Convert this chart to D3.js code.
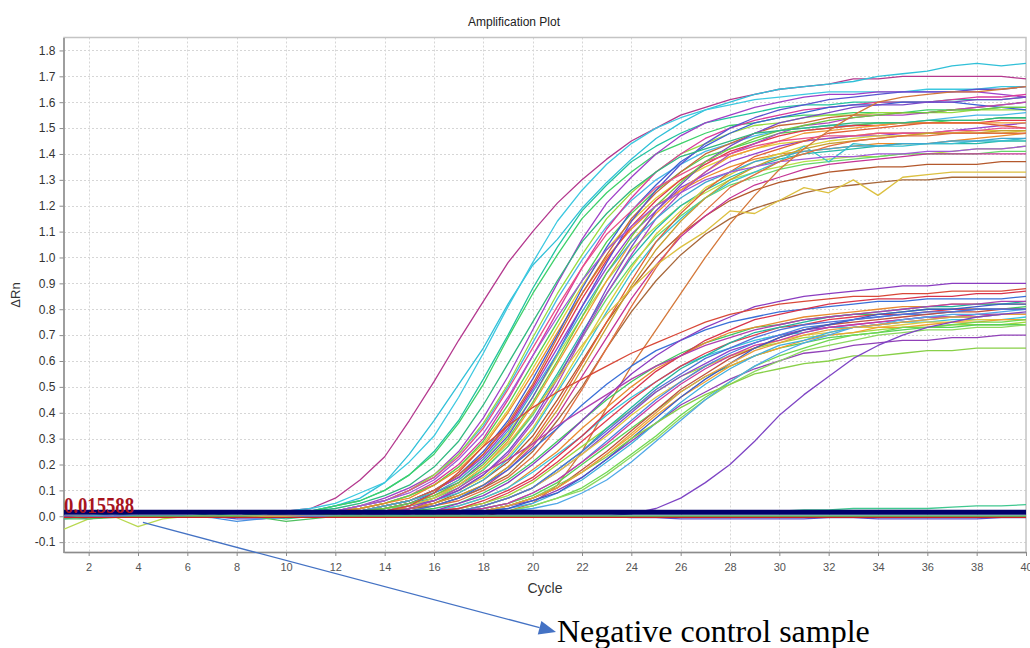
<!DOCTYPE html>
<html>
<head>
<meta charset="utf-8">
<script src="https://cdn.jsdelivr.net/npm/d3@7"></script>
<style>
  body { margin: 0; background: #fff; }
  svg { display: block; }
  .axis text { font-family: "Liberation Sans", Arial, sans-serif; }
</style>
</head>
<body>
<svg id="chart" width="1030" height="648"></svg>
<script>
// cycle numbers and tick labels
const cycles = [1,2,3,4,5,6,7,8,9,10,11,12,13,14,15,16,17,18,19,20,21,22,23,24,25,26,27,28,29,30,31,32,33,34,35,36,37,38,39,40];
const xTicks = [2,4,6,8,10,12,14,16,18,20,22,24,26,28,30,32,34,36,38,40];
const yTicks = [-0.1,0.0,0.1,0.2,0.3,0.4,0.5,0.6,0.7,0.8,0.9,1.0,1.1,1.2,1.3,1.4,1.5,1.6,1.7,1.8];
const threshold = 0.015588;

// delta Rn per cycle (1..40)
const earlyMagenta = [0,0,0,0,0,0,0,0,.01,.02, .03,.07,.14,.23,.37,.52,.68,.83,.98,1.10, 1.21,1.30,1.38,1.45,1.50,1.55,1.58,1.61,1.63,1.65, 1.66,1.67,1.69,1.69,1.70,1.70,1.70,1.70,1.70,1.69];
const earlyCyan = [0,0,0,0,0,0,0,0,0,.01, .02,.04,.07,.13,.24,.37,.51,.65,.82,.97, 1.07,1.19,1.29,1.38,1.46,1.52,1.57,1.60,1.63,1.65, 1.66,1.67,1.68,1.70,1.71,1.72,1.74,1.75,1.74,1.75];

const upper01 = [0,0,0,0,0,0,0,0,.01,.02, .03,.05,.09,.13,.21,.31,.46,.63,.81,.98, 1.14,1.26,1.36,1.44,1.50,1.54,1.57,1.59,1.61,1.62, 1.63,1.64,1.64,1.64,1.64,1.65,1.65,1.65,1.66,1.66];
const upper02 = [0,0,0,0,0,0,0,0,.01,.01, .02,.04,.06,.10,.16,.25,.37,.53,.70,.88, 1.04,1.18,1.28,1.37,1.43,1.48,1.52,1.54,1.56,1.58, 1.59,1.59,1.60,1.60,1.60,1.60,1.61,1.61,1.61,1.62];
const upper03 = [0,0,0,0,0,0,0,0,.01,.01, .02,.04,.06,.10,.16,.24,.36,.51,.69,.86, 1.01,1.15,1.25,1.33,1.40,1.44,1.48,1.51,1.52,1.54, 1.55,1.55,1.56,1.56,1.56,1.57,1.57,1.57,1.58,1.58];
const upper04 = [0,0,0,0,0,0,0,0,0,.01, .01,.02,.04,.07,.11,.16,.25,.38,.54,.72, .90,1.07,1.21,1.31,1.40,1.47,1.52,1.55,1.58,1.60, 1.62,1.63,1.63,1.64,1.64,1.64,1.64,1.64,1.63,1.62];
const upper05 = [0,0,0,0,0,0,0,0,0,.01, .01,.02,.04,.06,.10,.15,.24,.35,.50,.67, .84,.99,1.12,1.22,1.30,1.36,1.41,1.44,1.47,1.49, 1.50,1.51,1.51,1.52,1.52,1.53,1.54,1.55,1.55,1.56];
const upper06 = [0,0,0,0,0,0,0,0,0,.01, .01,.02,.04,.06,.10,.16,.24,.36,.51,.69, .86,1.01,1.15,1.25,1.33,1.40,1.44,1.48,1.51,1.52, 1.54,1.55,1.55,1.56,1.56,1.56,1.56,1.57,1.57,1.57];
const upper07 = [0,0,0,0,0,0,0,0,0,0, .01,.02,.03,.05,.08,.13,.20,.30,.45,.62, .79,.96,1.11,1.23,1.33,1.40,1.46,1.50,1.53,1.55, 1.57,1.58,1.59,1.60,1.60,1.60,1.61,1.62,1.62,1.63];
const upper08 = [0,0,0,0,0,0,0,0,0,0, .01,.02,.03,.05,.08,.12,.19,.28,.41,.57, .73,.89,1.03,1.14,1.23,1.30,1.35,1.39,1.42,1.44, 1.45,1.46,1.47,1.48,1.48,1.48,1.48,1.49,1.49,1.49];
const upper09 = [0,0,0,0,0,0,0,0,0,0, .01,.02,.03,.05,.08,.12,.19,.29,.43,.59, .75,.91,1.06,1.17,1.26,1.33,1.39,1.42,1.45,1.48, 1.49,1.50,1.51,1.52,1.52,1.52,1.53,1.53,1.54,1.54];
const upper10 = [0,0,0,0,0,0,0,0,0,0, .01,.02,.03,.05,.07,.12,.18,.27,.40,.55, .71,.86,1.00,1.11,1.20,1.26,1.31,1.35,1.38,1.40, 1.41,1.42,1.43,1.44,1.44,1.44,1.45,1.46,1.47,1.48];
const upper11 = [0,0,0,0,0,0,0,0,0,0, .01,.01,.02,.04,.06,.10,.16,.25,.37,.53, .70,.88,1.04,1.18,1.28,1.37,1.43,1.48,1.52,1.54, 1.56,1.58,1.59,1.59,1.60,1.60,1.60,1.59,1.58,1.57];
const upper12 = [0,0,0,0,0,0,0,0,0,0, .01,.01,.02,.04,.06,.10,.15,.24,.35,.50, .67,.84,.99,1.12,1.22,1.30,1.36,1.41,1.44,1.47, 1.49,1.50,1.51,1.51,1.52,1.52,1.52,1.52,1.53,1.53];
const upper13 = [0,0,0,0,0,0,0,0,0,0, .01,.01,.02,.04,.06,.10,.15,.23,.34,.49, .65,.81,.96,1.09,1.18,1.27,1.32,1.37,1.40,1.43, 1.45,1.46,1.47,1.47,1.48,1.48,1.49,1.50,1.51,1.52];
const upper14 = [0,0,0,0,0,0,0,0,0,0, .01,.01,.02,.04,.06,.09,.14,.22,.32,.46, .62,.77,.91,1.03,1.12,1.20,1.25,1.30,1.33,1.35, 1.37,1.38,1.39,1.39,1.40,1.40,1.41,1.42,1.42,1.43];
const upper15 = [0,0,0,0,0,0,0,0,0,0, .01,.01,.02,.04,.06,.10,.16,.24,.36,.51, .69,.86,1.01,1.15,1.25,1.33,1.40,1.44,1.48,1.51, 1.52,1.54,1.55,1.55,1.56,1.56,1.57,1.58,1.59,1.60];
const upper16 = [0,0,0,0,0,0,0,0,0,0, 0,.01,.02,.03,.05,.07,.12,.18,.27,.40, .55,.71,.86,1.00,1.11,1.20,1.26,1.31,1.35,1.38, 1.40,1.41,1.42,1.43,1.44,1.44,1.44,1.44,1.45,1.45];
const upper17 = [0,0,0,0,0,0,0,0,0,0, 0,.01,.02,.03,.05,.08,.12,.19,.29,.43, .59,.75,.91,1.06,1.17,1.26,1.33,1.39,1.42,1.45, 1.48,1.49,1.50,1.51,1.52,1.52,1.52,1.52,1.52,1.52];
const upper18 = [0,0,0,0,0,0,0,0,0,0, 0,.01,.02,.03,.05,.09,.13,.21,.31,.46, .63,.81,.98,1.14,1.26,1.36,1.44,1.50,1.54,1.57, 1.59,1.61,1.62,1.63,1.64,1.64,1.64,1.65,1.65,1.66];
const upper19 = [0,0,0,0,0,0,0,0,0,0, 0,.01,.02,.03,.04,.07,.11,.18,.27,.39, .54,.69,.84,.97,1.08,1.16,1.23,1.28,1.31,1.34, 1.36,1.37,1.38,1.39,1.40,1.40,1.40,1.40,1.41,1.41];
const upper20 = [0,0,0,0,0,0,0,0,0,0, 0,.01,.01,.02,.04,.06,.10,.15,.23,.34, .49,.65,.81,.96,1.09,1.18,1.27,1.32,1.37,1.40, 1.43,1.45,1.46,1.47,1.47,1.48,1.48,1.48,1.48,1.49];
const upper21 = [0,0,0,0,0,0,0,0,0,0, 0,.01,.01,.02,.04,.06,.10,.16,.24,.36, .51,.69,.86,1.01,1.15,1.25,1.33,1.40,1.44,1.48, 1.51,1.52,1.54,1.55,1.55,1.56,1.57,1.58,1.59,1.60];
const upper22 = [0,0,0,0,0,0,0,0,0,0, 0,.01,.01,.02,.03,.05,.09,.14,.21,.31, .45,.60,.75,.88,1.00,1.09,1.16,1.22,1.26,1.29, 1.31,1.33,1.34,1.35,1.35,1.36,1.36,1.36,1.37,1.37];
const upper23 = [0,0,0,0,0,0,0,0,0,0, 0,.01,.01,.02,.04,.06,.09,.14,.22,.33, .48,.63,.79,.94,1.06,1.15,1.23,1.29,1.33,1.37, 1.43,1.37,1.44,1.43,1.43,1.44,1.44,1.45,1.45,1.46];
const upper24 = [0,0,0,0,0,0,0,0,0,0, 0,0,.01,.02,.03,.04,.07,.11,.18,.27, .39,.54,.69,.84,.97,1.08,1.16,1.23,1.28,1.31, 1.34,1.36,1.37,1.38,1.39,1.40,1.40,1.40,1.40,1.40];
const upper25 = [0,0,0,0,0,0,0,0,0,0, 0,0,.01,.02,.03,.05,.08,.12,.19,.29, .43,.59,.75,.91,1.06,1.17,1.26,1.33,1.39,1.42, 1.45,1.48,1.49,1.50,1.51,1.52,1.52,1.52,1.51,1.50];
const upper26 = [0,0,0,0,0,0,0,0,0,0, 0,0,.01,.01,.03,.04,.07,.11,.16,.25, .37,.50,.65,.79,.91,1.01,1.09,1.15,1.19,1.22, 1.25,1.27,1.28,1.29,1.30,1.30,1.31,1.31,1.31,1.31];
const upper27 = [0,0,0,0,0,0,0,0,0,0, 0,.01,.01,.02,.04,.06,.10,.16,.25,.37, .53,.70,.88,1.04,1.18,1.28,1.37,1.43,1.48,1.52, 1.54,1.56,1.58,1.59,1.59,1.60,1.60,1.61,1.61,1.62];
const upper28 = [0,0,0,0,0,0,0,0,0,.01, .01,.02,.04,.06,.10,.15,.23,.34,.49,.65, .81,.96,1.09,1.18,1.27,1.32,1.37,1.40,1.43,1.45, 1.46,1.47,1.47,1.48,1.48,1.48,1.49,1.49,1.50,1.50];
const upper29 = [0,0,0,0,0,0,0,0,0,0, .01,.01,.02,.04,.06,.09,.14,.22,.33,.48, .63,.79,.94,1.06,1.15,1.23,1.29,1.33,1.37,1.39, 1.41,1.42,1.43,1.43,1.44,1.44,1.45,1.45,1.46,1.46];
const upper30 = [0,0,0,0,0,0,0,0,0,0, 0,.01,.02,.03,.05,.08,.13,.20,.30,.44, .60,.77,.94,1.08,1.20,1.29,1.37,1.42,1.46,1.49, 1.51,1.53,1.54,1.55,1.56,1.56,1.57,1.57,1.58,1.58];
const upper31 = [0,0,0,0,0,0,0,0,0,0, 0,0,.01,.02,.03,.05,.08,.12,.19,.28, .41,.57,.73,.89,1.03,1.14,1.23,1.30,1.35,1.39, 1.42,1.44,1.45,1.46,1.47,1.48,1.48,1.48,1.49,1.49];
const upper32 = [0,0,0,0,0,0,0,0,0,.01, .01,.02,.04,.06,.09,.14,.22,.32,.46,.62, .77,.91,1.03,1.12,1.20,1.25,1.30,1.33,1.35,1.37, 1.38,1.39,1.39,1.40,1.40,1.41,1.41,1.42,1.42,1.43];
const upper33 = [0,0,0,0,0,0,0,0,0,0, 0,0,.01,.01,.02,.04,.06,.10,.15,.23, .34,.49,.65,.81,.96,1.09,1.18,1.27,1.32,1.37, 1.40,1.43,1.45,1.46,1.47,1.47,1.48,1.48,1.48,1.48];
const upper34 = [0,0,0,0,0,0,0,0,0,.01, .02,.03,.05,.08,.12,.19,.29,.43,.59,.75, .91,1.06,1.17,1.26,1.33,1.39,1.42,1.45,1.48,1.49, 1.50,1.51,1.52,1.52,1.52,1.53,1.53,1.53,1.54,1.54];
const lateOrange = [0,0,0,0,0,0,0,0,0,0, 0,0,0,0,0,0,0,0,.02,.05, .12,.25,.42,.58,.72,.86,1.00,1.13,1.24,1.34, 1.42,1.49,1.55,1.60,1.62,1.63,1.64,1.64,1.65,1.66];
const zigzagYellow = [0,0,0,0,0,0,0,0,0,0, 0,0,.01,.02,.04,.07,.12,.19,.28,.40, .53,.66,.78,.88,.97,1.04,1.10,1.18,1.17,1.22, 1.27,1.25,1.30,1.24,1.31,1.32,1.33,1.33,1.33,1.33];

const lower01 = [0,0,0,0,0,0,0,0,0,0, 0,0,.01,.01,.02,.04,.07,.12,.18,.26, .34,.43,.51,.58,.64,.68,.72,.75,.77,.79, .80,.81,.82,.83,.83,.84,.84,.84,.84,.85];
const lower02 = [0,0,0,0,0,0,0,0,0,0, 0,0,0,.01,.02,.03,.05,.09,.14,.21, .29,.37,.45,.52,.58,.63,.67,.70,.73,.74, .76,.77,.78,.78,.79,.80,.80,.80,.80,.81];
const lower03 = [0,0,0,0,0,0,0,0,0,0, 0,0,0,.01,.01,.02,.04,.07,.11,.18, .25,.34,.42,.50,.57,.62,.67,.71,.73,.75, .77,.78,.79,.80,.81,.81,.82,.82,.82,.82];
const lower04 = [0,0,0,0,0,0,0,0,0,0, 0,0,0,.01,.01,.02,.04,.07,.11,.17, .24,.31,.39,.46,.52,.58,.62,.65,.68,.70, .71,.73,.73,.74,.75,.75,.76,.76,.76,.77];
const lower05 = [0,0,0,0,0,0,0,0,0,0, 0,0,0,0,.01,.02,.03,.05,.09,.14, .21,.29,.37,.45,.52,.58,.63,.67,.70,.73, .74,.76,.77,.78,.78,.79,.80,.80,.80,.80];
const lower06 = [0,0,0,0,0,0,0,0,0,0, 0,0,0,0,.01,.01,.03,.05,.08,.13, .20,.27,.34,.41,.48,.54,.58,.62,.65,.67, .69,.70,.71,.72,.73,.73,.74,.74,.74,.75];
const lower07 = [0,0,0,0,0,0,0,0,0,0, 0,0,0,0,.01,.01,.02,.04,.07,.11, .17,.24,.32,.40,.48,.54,.59,.64,.67,.70, .72,.73,.74,.75,.76,.77,.77,.78,.78,.78];
const lower08 = [0,0,0,0,0,0,0,0,0,0, 0,0,0,0,.01,.01,.02,.04,.07,.11, .18,.25,.34,.42,.50,.57,.62,.67,.71,.73, .75,.77,.78,.79,.80,.81,.81,.82,.82,.83];
const lower09 = [0,0,0,0,0,0,0,0,0,0, 0,0,0,0,.01,.01,.02,.04,.07,.11, .17,.24,.31,.39,.46,.52,.58,.62,.65,.68, .70,.71,.73,.73,.74,.75,.75,.76,.76,.76];
const lower10 = [0,0,0,0,0,0,0,0,0,0, 0,0,0,0,0,.01,.02,.03,.05,.09, .14,.21,.29,.37,.45,.52,.58,.63,.67,.70, .73,.74,.76,.77,.78,.78,.79,.80,.80,.80];
const lower11 = [0,0,0,0,0,0,0,0,0,0, 0,0,0,0,0,.01,.01,.03,.05,.08, .13,.20,.27,.34,.41,.48,.54,.58,.62,.65, .67,.69,.70,.71,.72,.73,.73,.74,.74,.74];
const lower12 = [0,0,0,0,0,0,0,0,0,0, 0,0,0,0,0,.01,.02,.03,.05,.09, .14,.21,.28,.36,.44,.51,.57,.62,.66,.68, .71,.73,.74,.75,.76,.77,.77,.78,.78,.78];
const lower13 = [0,0,0,0,0,0,0,0,0,0, 0,0,0,0,0,.01,.01,.02,.04,.07, .11,.17,.24,.31,.39,.46,.52,.58,.62,.65, .68,.70,.71,.73,.73,.74,.75,.75,.76,.76];
const lower14 = [0,0,0,0,0,0,0,0,0,0, 0,0,0,0,0,.01,.01,.02,.04,.07, .11,.18,.25,.33,.41,.49,.55,.61,.65,.69, .72,.74,.75,.76,.77,.78,.79,.79,.80,.80];
const lower15 = [0,0,0,0,0,0,0,0,0,0, 0,0,0,0,0,.01,.01,.02,.04,.06, .10,.15,.22,.29,.36,.43,.48,.53,.57,.60, .63,.64,.66,.67,.68,.68,.69,.69,.70,.70];
const lower16 = [0,0,0,0,0,0,0,0,0,0, 0,0,0,0,0,0,.01,.02,.03,.05, .09,.14,.21,.28,.36,.44,.51,.57,.62,.66, .68,.71,.73,.74,.75,.76,.77,.77,.78,.78];
const lower17 = [0,0,0,0,0,0,0,0,0,0, 0,0,0,0,0,0,.01,.02,.03,.06, .09,.15,.22,.30,.38,.46,.53,.59,.65,.69, .72,.74,.76,.78,.79,.80,.80,.81,.82,.82];
const lower18 = [0,0,0,0,0,0,0,0,0,0, 0,0,0,0,0,0,.01,.01,.02,.04, .07,.11,.17,.24,.31,.39,.46,.52,.58,.62, .65,.68,.70,.71,.73,.73,.74,.75,.75,.76];
const lower19 = [0,0,0,0,0,0,0,0,0,0, 0,0,0,0,0,0,.01,.01,.02,.04, .07,.10,.16,.23,.30,.38,.45,.51,.56,.60, .64,.66,.68,.70,.71,.72,.72,.73,.73,.74];
const lower20 = [0,0,0,0,0,0,0,0,0,0, 0,0,0,0,0,0,0,.01,.02,.03, .05,.09,.14,.21,.29,.37,.45,.52,.58,.63, .67,.70,.73,.74,.76,.77,.78,.78,.79,.80];
const lower21 = [0,0,0,0,0,0,0,0,0,0, 0,0,0,0,0,.01,.01,.02,.04,.07, .12,.17,.23,.30,.36,.42,.47,.51,.55,.57, .59,.60,.62,.62,.63,.64,.64,.65,.65,.65];
const lower22 = [0,0,0,0,0,0,0,0,0,0, 0,0,0,.01,.01,.02,.05,.08,.13,.20, .28,.37,.46,.55,.62,.68,.73,.77,.81,.83, .85,.86,.87,.88,.89,.89,.90,.90,.90,.90];
const lower23 = [0,0,0,0,0,0,0,0,0,0, 0,0,0,0,.01,.02,.03,.06,.10,.15, .23,.31,.40,.48,.56,.62,.68,.72,.76,.78, .80,.82,.83,.84,.84,.85,.85,.86,.86,.87];
const lower24 = [0,0,0,0,0,0,0,0,0,0, 0,0,0,0,0,.01,.01,.02,.04,.07, .11,.17,.24,.32,.40,.48,.54,.59,.64,.67, .70,.72,.73,.74,.75,.76,.77,.77,.78,.78];
const lower25 = [0,0,0,0,0,0,0,0,0,0, 0,0,0,0,.01,.01,.02,.04,.07,.11, .18,.25,.33,.41,.49,.55,.61,.65,.69,.72, .74,.75,.76,.77,.78,.79,.79,.80,.80,.80];
const lowerEarlyRed = [0,0,0,0,0,0,0,0,0,0, 0,0,.01,.02,.04,.09,.17,.27,.35,.42, .48,.53,.58,.63,.67,.71,.75,.78,.80,.82, .83,.84,.85,.85,.86,.86,.87,.87,.87,.88];
const lowerEarlyPurple = [0,0,0,0,0,0,0,0,0,0, 0,0,0,.01,.03,.06,.11,.17,.22,.28, .35,.41,.47,.53,.58,.62,.66,.69,.72,.74, .76,.77,.78,.79,.80,.81,.82,.82,.83,.83];
const latePurple = [0,0,0,0,0,0,0,0,0,0, 0,0,0,0,0,0,0,0,0,0, 0,0,0,.01,.03,.07,.13,.20,.29,.39, .47,.54,.61,.66,.70,.73,.75,.77,.78,.79];

// curves that never cross the threshold
const flatGreen = [0,0,.01,0,0,0,.01,0,0,-.01, 0,0,.01,.01,0,.01,.01,.01,.01,.01, .01,.01,.01,.01,.02,.02,.02,.02,.02,.02, .025,.025,.03,.03,.03,.03,.035,.04,.04,.045];
const flatViolet = [0,-.01,0,0,0,0,0,-.01,-.01,0, 0,0,0,0,0,0,0,0,0,0, 0,0,0,-.005,-.005,-.01,-.01,-.01,-.01,-.01, -.01,-.005,-.005,-.01,-.01,-.01,-.01,-.01,-.005,-.005];
const flatLime = [-.05,-.01,0,-.04,-.01,0,0,0,0,0, 0,0,0,0,0,0,0,0,0,0, 0,0,0,0,0,0,0,0,0,0, 0,0,0,0,0,0,0,0,0,0];
const flatSky = [-.01,0,0,0,0,0,-.005,-.02,-.01,-.005, 0,0,0,0,0,0,0,0,0,0, 0,0,0,0,0,0,0,0,0,0, 0,0,0,0,0,0,0,0,0,0];
const flatTeal = [-.01,-.01,-.005,0,0,0,0,0,-.005,-.02, -.01,0,0,0,0,0,0,0,0,0, 0,0,0,0,0,0,0,0,0,0, 0,0,0,0,0,0,0,0,0,0];
const flatRed = [-.004,-.004,-.004,-.004,-.004,-.004,-.004,-.004,-.004,-.004, -.004,-.004,-.004,-.004,-.004,-.004,-.004,-.004,-.004,-.004, -.004,-.004,-.004,-.004,-.004,-.004,-.004,-.004,-.004,-.004, -.004,-.004,-.004,-.004,-.004,-.004,-.004,-.004,-.004,-.004];

const upperCurves = [earlyMagenta, earlyCyan, upper01, upper02, upper03, upper04, upper05, upper06, upper07, upper08, upper09, upper10,
  upper11, upper12, upper13, upper14, upper15, upper16, upper17, upper18, upper19, upper20, upper21, upper22, upper23, upper24,
  upper25, upper26, upper27, upper28, upper29, upper30, upper31, upper32, upper33, upper34, lateOrange, zigzagYellow];
const upperColors = ["#b4388e", "#30c0d8", "#3cc8e0", "#22c4a0", "#3ed06a", "#a040c8", "#48b8e8", "#98dc40", "#d83c9c", "#e2cc38",
  "#52d052", "#ec8a2a", "#3c60d4", "#e0384c", "#9444d0", "#b4e048", "#c86a38", "#28b8a8", "#f09a34", "#5a54d0", "#66d86a",
  "#d8d03c", "#b048c0", "#b4582c", "#38c0d0", "#c43494", "#e06034", "#a8683a", "#7a48c8",
  "#e85088", "#40a8d0", "#70c840", "#c8a030", "#a058d8", "#e07040", "#30b880", "#d4783a", "#dcc040"];

const lowerCurves = [lower01, lower02, lower03, lower04, lower05, lower06, lower07, lower08, lower09, lower10, lower11, lower12,
  lower13, lower14, lower15, lower16, lower17, lower18, lower19, lower20, lower21, lower22, lower23, lower24, lower25,
  lowerEarlyRed, lowerEarlyPurple, latePurple];
const lowerColors = ["#3a70d8", "#40c860", "#e88a30", "#38c4dc", "#e03c50", "#a0d840", "#8c44cc", "#24b49c", "#e0c840", "#4a84e0",
  "#58d058", "#cc3ca0", "#f0a030", "#c05040", "#9040b8", "#40b0e0", "#3c5cc8", "#70d850", "#8cd860", "#50a8e8", "#88d048",
  "#8a3cc0", "#d8344c", "#e8a040", "#5070d8", "#d84838", "#b040b0", "#7e44c4"];

const flatCurves = [flatGreen, flatViolet, flatLime, flatSky, flatTeal, flatRed];
const flatColors = ["#40c890", "#6050c8", "#b8d850", "#4a90e0", "#50c060", "#d02020"];

const svg = d3.select("#chart");
const margin = {top: 37.5, right: 4, bottom: 95.5, left: 64};
const width = 1030 - margin.left - margin.right;
const height = 648 - margin.top - margin.bottom;

const x = d3.scaleLinear().domain([1, 40]).range([margin.left, margin.left + width]);
const y = d3.scaleLinear().domain([-0.14, 1.85]).range([margin.top + height, margin.top]);

// dashed grid
const grid = svg.append("g").attr("class", "grid");
grid.selectAll("line.h").data(yTicks).join("line")
  .attr("class", "h")
  .attr("x1", margin.left).attr("x2", margin.left + width)
  .attr("y1", d => Math.round(y(d)) + 0.5).attr("y2", d => Math.round(y(d)) + 0.5)
  .attr("stroke", "#d6d6d6").attr("stroke-dasharray", "2,2");
grid.selectAll("line.v").data(xTicks.filter(d => d < 40)).join("line")
  .attr("class", "v")
  .attr("x1", d => Math.round(x(d)) + 0.5).attr("x2", d => Math.round(x(d)) + 0.5)
  .attr("y1", margin.top).attr("y2", margin.top + height)
  .attr("stroke", "#d6d6d6").attr("stroke-dasharray", "2,2");

// frame
svg.append("rect")
  .attr("x", margin.left).attr("y", margin.top)
  .attr("width", width).attr("height", height)
  .attr("fill", "none").attr("stroke", "#c4c4c4").attr("stroke-width", 1.5);

// axes
const yAxis = svg.append("g").attr("class", "axis")
  .attr("transform", "translate(" + (margin.left - 0.5) + ",0)")
  .call(d3.axisLeft(y).tickValues(yTicks).tickFormat(d => d.toFixed(1)).tickSize(4).tickSizeOuter(0).tickPadding(4));
yAxis.selectAll("text").attr("font-size", 12).attr("fill", "#333");

const xAxis = svg.append("g").attr("class", "axis")
  .attr("transform", "translate(0," + (margin.top + height - 0.5) + ")")
  .call(d3.axisBottom(x).tickValues(xTicks).tickSize(4).tickSizeOuter(0).tickPadding(7));
xAxis.selectAll("text").attr("font-size", 11).attr("fill", "#555");

svg.selectAll(".axis path.domain").attr("stroke", "#8c8c8c").attr("stroke-width", 1.5);
svg.selectAll(".axis .tick line").attr("stroke", "#8c8c8c");

// curves
svg.append("clipPath").attr("id", "plotClip")
  .append("rect")
  .attr("x", margin.left).attr("y", margin.top)
  .attr("width", width).attr("height", height);

const line = d3.line()
  .x((d, i) => x(cycles[i]))
  .y(d => y(d));

const curves = [];
upperCurves.forEach((values, i) => curves.push({values: values, color: upperColors[i]}));
lowerCurves.forEach((values, i) => curves.push({values: values, color: lowerColors[i]}));
flatCurves.forEach((values, i) => curves.push({values: values, color: flatColors[i]}));

const plot = svg.append("g").attr("clip-path", "url(#plotClip)");
plot.selectAll("path.curve").data(curves).join("path")
  .attr("class", "curve")
  .attr("d", d => line(d.values))
  .attr("fill", "none")
  .attr("stroke", d => d.color)
  .attr("stroke-width", 1.3)
  .attr("stroke-linejoin", "round");

// threshold value and line
svg.append("text")
  .attr("x", margin.left)
  .attr("y", y(threshold) + 1)
  .attr("font-family", "'Liberation Serif', 'Times New Roman', serif")
  .attr("font-size", 24)
  .attr("font-weight", "bold")
  .attr("fill", "#a8141e")
  .attr("textLength", 70)
  .attr("lengthAdjust", "spacingAndGlyphs")
  .text(threshold.toString());

plot.append("line")
  .attr("x1", x(1)).attr("x2", x(40))
  .attr("y1", y(threshold)).attr("y2", y(threshold))
  .attr("stroke", "#00006a")
  .attr("stroke-width", 5);

// titles
svg.append("text")
  .attr("x", 514).attr("y", 26)
  .attr("text-anchor", "middle")
  .attr("font-family", "'Liberation Sans', Arial, sans-serif")
  .attr("font-size", 12).attr("fill", "#222")
  .text("Amplification Plot");

svg.append("text")
  .attr("x", margin.left + width / 2).attr("y", 593)
  .attr("text-anchor", "middle")
  .attr("font-family", "'Liberation Sans', Arial, sans-serif")
  .attr("font-size", 14).attr("fill", "#333")
  .text("Cycle");

svg.append("text")
  .attr("transform", "translate(20,295) rotate(-90)")
  .attr("text-anchor", "middle")
  .attr("font-family", "'Liberation Sans', Arial, sans-serif")
  .attr("font-size", 13).attr("fill", "#333")
  .text("ΔRn");

// annotation arrow for the negative control
const arrowStart = [x(4.2), y(-0.024)];
const arrowTip = [556, 632];
const ang = Math.atan2(arrowTip[1] - arrowStart[1], arrowTip[0] - arrowStart[0]);
const headLen = 17, headHalf = 7;
const base = [arrowTip[0] - headLen * Math.cos(ang), arrowTip[1] - headLen * Math.sin(ang)];

svg.append("line")
  .attr("x1", arrowStart[0]).attr("y1", arrowStart[1])
  .attr("x2", base[0]).attr("y2", base[1])
  .attr("stroke", "#4472c4").attr("stroke-width", 1.3);

svg.append("polygon")
  .attr("points", [
    arrowTip,
    [base[0] + headHalf * Math.sin(ang), base[1] - headHalf * Math.cos(ang)],
    [base[0] - headHalf * Math.sin(ang), base[1] + headHalf * Math.cos(ang)]
  ].map(p => p.join(",")).join(" "))
  .attr("fill", "#4472c4");

svg.append("text")
  .attr("x", 557).attr("y", 642)
  .attr("font-family", "'Liberation Serif', 'Times New Roman', serif")
  .attr("font-size", 32).attr("fill", "#000")
  .text("Negative control sample");
</script>
</body>
</html>
